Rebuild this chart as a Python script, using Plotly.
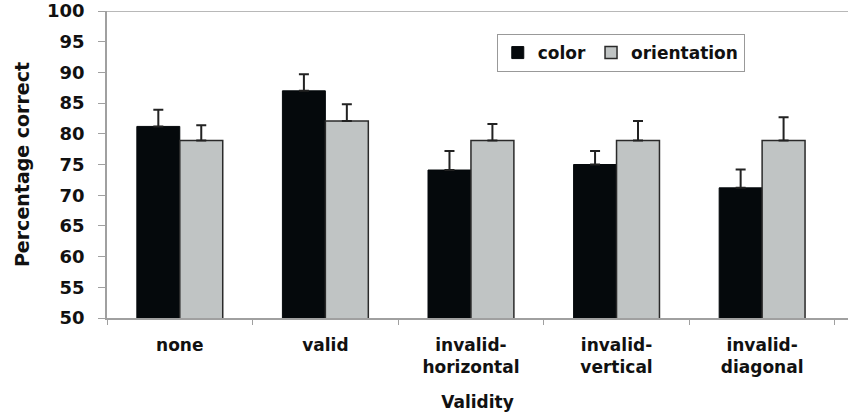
import plotly.graph_objects as go

categories = ["none", "valid", "invalid-<br>horizontal", "invalid-<br>vertical", "invalid-<br>diagonal"]
color_vals = [81.2, 87.0, 74.1, 75.0, 71.2]
color_err = [2.7, 2.7, 3.1, 2.2, 3.0]
orient_vals = [78.9, 82.1, 78.9, 78.9, 78.9]
orient_err = [2.5, 2.7, 2.7, 3.2, 3.8]
y_ticks = list(range(50, 101, 5))

FONT = "DejaVu Sans"
axis_gray = "#a0a0a0"

fig = go.Figure()
fig.add_trace(go.Bar(
    name="color", x=categories, y=color_vals,
    marker=dict(color="#05090c", line=dict(color="#05090c", width=1)),
    error_y=dict(type="data", symmetric=False, array=color_err,
                 arrayminus=[0] * len(color_err), color="#222222", thickness=2, width=5),
))
fig.add_trace(go.Bar(
    name="orientation", x=categories, y=orient_vals,
    marker=dict(color="#c0c4c4", line=dict(color="#2a2a2a", width=1.5)),
    error_y=dict(type="data", symmetric=False, array=orient_err,
                 arrayminus=[0] * len(orient_err), color="#222222", thickness=2, width=5),
))

fig.update_layout(
    width=848, height=419,
    margin=dict(l=107, r=0, t=11, b=101),
    paper_bgcolor="white", plot_bgcolor="white",
    barmode="group", bargap=0.41, bargroupgap=0,
    font=dict(family=FONT, size=16, color="#111111", weight="bold"),
    legend=dict(
        orientation="h", x=0.526, y=0.925, xanchor="left", yanchor="top",
        bordercolor="#999999", borderwidth=1, bgcolor="white",
        font=dict(family=FONT, size=17, color="#111111", weight="bold"),
        itemwidth=30, tracegroupgap=0,
    ),
    showlegend=True,
)
fig.update_xaxes(
    range=[-0.5, 4.59],
    showline=True, linecolor=axis_gray, linewidth=1.5,
    ticks="outside", tickson="boundaries", ticklen=5, tickcolor=axis_gray, tickwidth=1,
    showgrid=False,
    ticklabelstandoff=11,
    tickfont=dict(family=FONT, size=17, weight="bold"),
    title=dict(text="Validity", font=dict(family=FONT, size=17, weight="bold"), standoff=20),
)
fig.update_yaxes(
    range=[50, 100], tickvals=y_ticks,
    showline=True, linecolor=axis_gray, linewidth=1.5,
    ticks="outside", ticklen=7, tickcolor=axis_gray, tickwidth=1,
    showgrid=False, zeroline=False,
    ticklabelstandoff=10,
    tickfont=dict(family=FONT, size=18, weight="bold"),
    title=dict(text="Percentage correct", font=dict(family=FONT, size=19, weight="bold"), standoff=12),
)
fig.add_shape(type="line", xref="paper", yref="y", x0=0, x1=1, y0=100, y1=100,
              line=dict(color=axis_gray, width=1.5))

fig.write_html("out.html")
